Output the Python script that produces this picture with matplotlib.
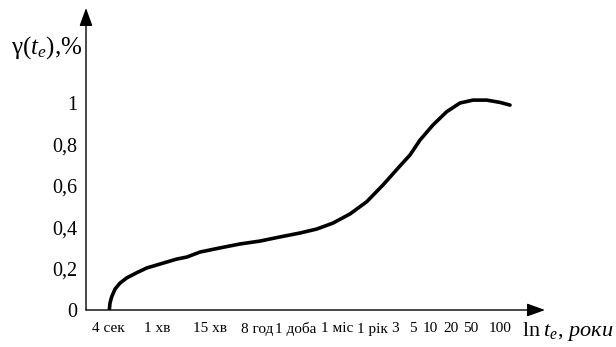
import matplotlib
matplotlib.use('Agg')
import matplotlib.pyplot as plt

plt.rcParams['font.family'] = ['Liberation Serif', 'DejaVu Serif']
plt.rcParams['mathtext.fontset'] = 'custom'
plt.rcParams['mathtext.rm'] = 'Liberation Serif'
plt.rcParams['mathtext.it'] = 'Liberation Serif:italic'

# Шкала часу (умовні позиції на осі)
x_labels = ['4 сек', '1 хв', '15 хв', '8 год', '1 доба', '1 міс', '1 рік',
            '3', '5', '10', '20', '50', '100']
x_pos = [2.2, 7.1, 12.4, 17.1, 21.0, 25.1, 28.6, 30.9, 32.7, 34.4, 36.5, 38.5, 41.4]

y_ticks = [0, 0.2, 0.4, 0.6, 0.8, 1.0]
y_labels = ['0', '0,2', '0,4', '0,6', '0,8', '1']

# Крива gamma(t_e)
curve_x = [2.33, 2.40, 2.57, 2.90, 3.40, 4.07, 5.07, 6.07, 7.40, 9.07, 10.1, 11.4,
           13.4, 15.4, 17.4, 19.4, 21.4, 23.07, 24.7, 26.4, 28.07, 29.7, 31.4,
           32.4, 33.4, 34.7, 36.07, 37.4, 38.7, 40.07, 41.4, 42.4]
curve_y = [0.0, 0.034, 0.064, 0.101, 0.130, 0.155, 0.180, 0.203, 0.222, 0.246,
           0.256, 0.280, 0.300, 0.319, 0.333, 0.353, 0.372, 0.391, 0.420, 0.464,
           0.523, 0.604, 0.696, 0.749, 0.821, 0.894, 0.958, 1.0, 1.014, 1.014,
           1.003, 0.990]

fig = plt.figure(figsize=(6.16, 3.47), dpi=100)
ax = fig.add_axes([86 / 616, 37 / 347, 459 / 616, 302 / 347])
xmax, ymax = 45.9, 1.459
ax.set_xlim(0, xmax)
ax.set_ylim(0, ymax)
for s in ax.spines.values():
    s.set_visible(False)

# осі зі стрілками
arrow = dict(arrowstyle='-|>,head_length=1.1,head_width=0.4', color='black',
             lw=1.0, shrinkA=0, shrinkB=0)
ax.annotate('', xy=(xmax, 0), xytext=(0, 0), arrowprops=arrow, annotation_clip=False)
ax.annotate('', xy=(0, ymax), xytext=(0, 0), arrowprops=arrow, annotation_clip=False)

ax.plot(curve_x, curve_y, color='black', lw=2.6, solid_capstyle='round',
        solid_joinstyle='round')

ax.set_xticks(x_pos)
ax.set_xticklabels(x_labels, fontsize=11)
ax.set_yticks(y_ticks)
ax.set_yticklabels(y_labels, fontsize=14.5)
ax.tick_params(axis='x', length=0, pad=9)
ax.tick_params(axis='y', length=0, pad=6)

ax.text(-0.4, 1.27, 'γ($t_e$),%', fontsize=18, ha='right', va='center')
ax.text(43.6, -0.105, r'$\mathrm{ln}\;t_e$, $\mathit{роки}$', fontsize=16,
        ha='left', va='center', clip_on=False)

fig.savefig('out.png', dpi=100)
